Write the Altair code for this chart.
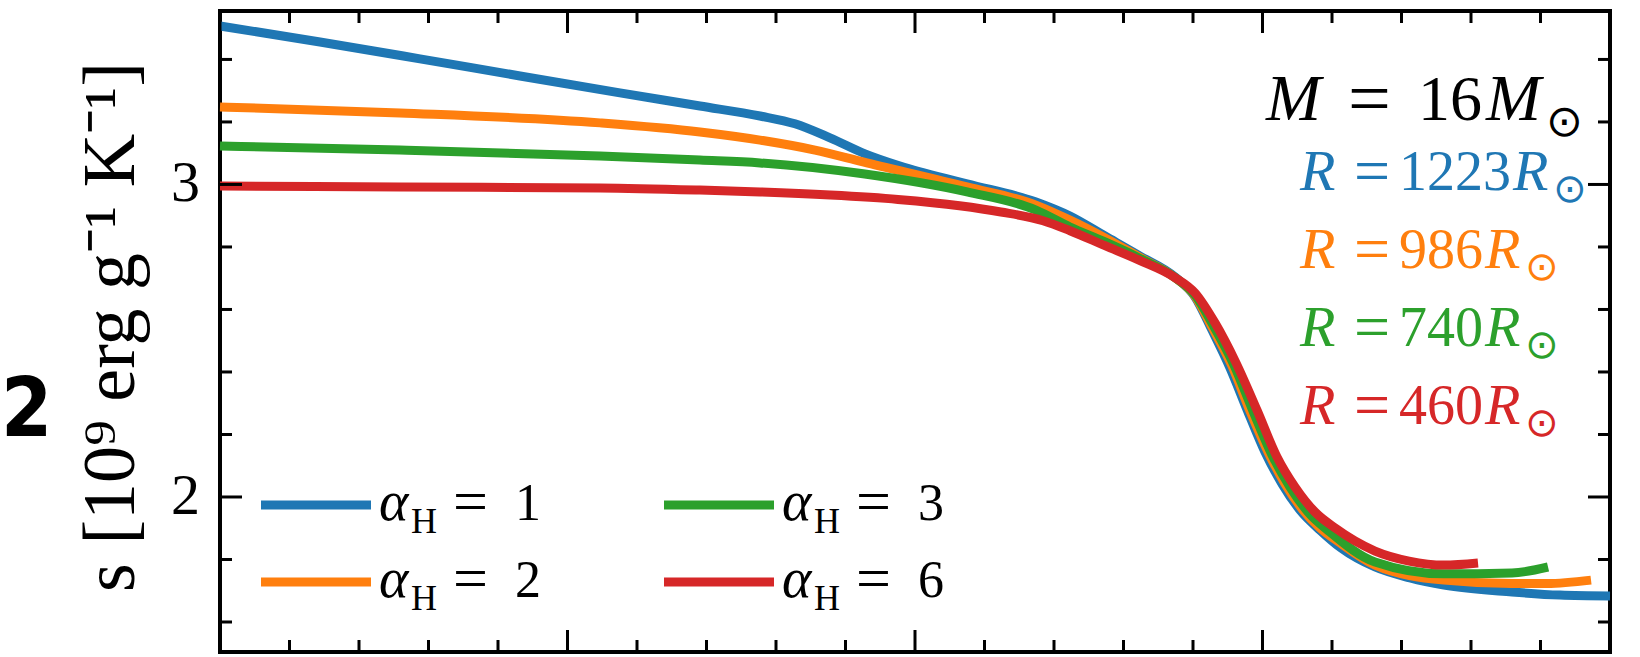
import altair as alt
import pandas as pd

# ---------------- data ----------------
series_names = ["αH = 1", "αH = 2", "αH = 3", "αH = 6"]
series_colors = ["#1f77b4", "#ff7f0e", "#2ca02c", "#d62728"]

blue_x = [0.0, 1.439, 2.878, 4.317, 5.755, 6.906, 7.770, 8.273, 8.777, 9.281, 9.784,
          10.748, 11.741, 12.230, 12.734, 13.237, 13.741, 14.029, 14.273, 14.532, 14.791,
          15.036, 15.281, 15.540, 15.827, 16.129, 16.619, 17.122, 17.612, 18.590, 19.281, 20.0]
blue_y = [3.507, 3.456, 3.402, 3.347, 3.293, 3.251, 3.219, 3.194, 3.149, 3.098, 3.059,
          3.002, 2.944, 2.899, 2.835, 2.771, 2.704, 2.640, 2.534, 2.413, 2.272,
          2.144, 2.042, 1.958, 1.894, 1.837, 1.776, 1.741, 1.718, 1.696, 1.686, 1.683]

orange_x = [0.0, 2.590, 5.468, 6.906, 7.770, 8.561, 9.252, 10.748, 11.741, 12.230, 12.734,
            13.223, 13.727, 14.029, 14.273, 14.561, 14.820, 15.079, 15.324, 15.583, 15.827,
            16.115, 16.619, 17.612, 18.590, 19.094, 19.727]
orange_y = [3.248, 3.229, 3.197, 3.168, 3.142, 3.110, 3.072, 2.992, 2.934, 2.886, 2.829,
            2.768, 2.704, 2.643, 2.544, 2.419, 2.275, 2.144, 2.042, 1.958, 1.901,
            1.853, 1.782, 1.734, 1.723, 1.723, 1.734]

green_x = [0.0, 2.590, 5.468, 6.906, 7.770, 9.252, 10.748, 11.741, 12.230, 12.734, 13.223,
           13.727, 14.029, 14.288, 14.590, 14.863, 15.137, 15.396, 15.655, 15.971, 16.619,
           17.612, 18.590, 19.108]
green_y = [3.123, 3.110, 3.091, 3.078, 3.069, 3.034, 2.976, 2.918, 2.864, 2.816, 2.765,
           2.704, 2.646, 2.550, 2.422, 2.275, 2.134, 2.032, 1.952, 1.888, 1.792,
           1.754, 1.757, 1.776]

red_x = [0.0, 2.590, 5.468, 6.906, 7.770, 8.777, 9.755, 10.640, 11.237, 11.842, 12.230,
         12.734, 13.223, 13.727, 14.029, 14.317, 14.619, 14.921, 15.209, 15.468, 15.755,
         16.043, 16.619, 17.108, 17.612, 18.101]
red_y = [2.995, 2.992, 2.989, 2.982, 2.976, 2.966, 2.952, 2.932, 2.912, 2.884, 2.852,
         2.804, 2.758, 2.704, 2.653, 2.557, 2.429, 2.278, 2.128, 2.032, 1.952,
         1.901, 1.827, 1.795, 1.782, 1.789]

y_major = [2, 3]
y_minor = [1.6, 1.8, 2.2, 2.4, 2.6, 2.8, 3.2, 3.4]
x_major = [0, 5, 10, 15, 20]
x_minor = [1, 2, 3, 4, 6, 7, 8, 9, 11, 12, 13, 14, 16, 17, 18, 19]

radius_labels = ["1223", "986", "740", "460"]
alpha_values = ["1", "2", "3", "6"]

# ---------------- layout ----------------
W, H = 1390, 641
PAD_L, PAD_T = 220, 11
SERIF = "Liberation Serif"

xscale = alt.Scale(domain=[0, 20], nice=False, zero=False)
yscale = alt.Scale(domain=[1.504, 3.555], nice=False, zero=False)

one = pd.DataFrame({"k": [0]})


def txt(s, px, py, size, color="black", italic=False, align="left",
        font=SERIF, weight="normal", baseline="alphabetic", angle=0):
    kw = dict(text=s, fontSize=size, color=color, font=font,
              fontStyle="italic" if italic else "normal", align=align,
              baseline=baseline, fontWeight=weight)
    if angle:
        kw["angle"] = angle
    return alt.Chart(one).mark_text(**kw).encode(
        x=alt.value(px - PAD_L), y=alt.value(py - PAD_T))


layers = []

# curves
all_x = [blue_x, orange_x, green_x, red_x]
all_y = [blue_y, orange_y, green_y, red_y]
for i, (xs, ys) in enumerate(zip(all_x, all_y)):
    d = pd.DataFrame({"x": xs, "y": ys, "series": series_names[i]})
    layers.append(
        alt.Chart(d).mark_line(strokeWidth=9, interpolate="monotone",
                               color=series_colors[i], strokeCap="butt").encode(
            x=alt.X("x:Q", scale=xscale, axis=None),
            y=alt.Y("y:Q", scale=yscale, axis=None),
        )
    )

# inward ticks on all four sides
def yticks(vals, x0, x1):
    return alt.Chart(pd.DataFrame({"v": vals})).mark_rule(color="black", strokeWidth=3).encode(
        y=alt.Y("v:Q", scale=yscale, axis=None), x=alt.value(x0), x2=alt.value(x1))


def xticks(vals, y0, y1):
    return alt.Chart(pd.DataFrame({"v": vals})).mark_rule(color="black", strokeWidth=3).encode(
        x=alt.X("v:Q", scale=xscale, axis=None), y=alt.value(y0), y2=alt.value(y1))


layers += [
    yticks(y_major, 0, 22), yticks(y_minor, 0, 12),
    yticks(y_major, W, W - 22), yticks(y_minor, W, W - 12),
    xticks(x_major, 0, 22), xticks(x_minor, 0, 12),
    xticks(x_major, H, H - 22), xticks(x_minor, H, H - 12),
]

# y tick labels
layers.append(
    alt.Chart(pd.DataFrame({"v": y_major, "lab": [str(v) for v in y_major]})).mark_text(
        fontSize=58, font=SERIF, color="black", align="right", baseline="middle").encode(
        y=alt.Y("v:Q", scale=yscale, axis=None), x=alt.value(-20), text="lab:N")
)

# y-axis title and panel label
layers.append(txt("s   [10⁹   erg   g⁻¹  K⁻¹]", 112, 327, 74, align="center",
                  baseline="middle", angle=270))
layers.append(txt("2", 1, 436, 82, font="DejaVu Sans Condensed, Liberation Sans",
                  weight="bold", align="left"))

# annotation: M = 16 M_sun
layers += [
    txt("M", 1266, 120, 66, italic=True),
    txt("=", 1348, 124, 76),
    txt("16", 1418, 120, 64),
    txt("M", 1486, 120, 66, italic=True),
    txt("⊙", 1546, 136, 44, font="DejaVu Sans"),
]

# annotation: radii
for k, (lab, col) in enumerate(zip(radius_labels, series_colors)):
    base = 190 + 78 * k
    num_end = 1399 + 28 * len(lab)
    layers += [
        txt("R", 1300, base, 58, color=col, italic=True),
        txt("=", 1354, base + 2, 64, color=col),
        txt(lab, 1399, base, 56, color=col),
        txt("R", num_end + 2, base, 58, color=col, italic=True),
        txt("⊙", num_end + 42, base + 12, 40, color=col, font="DejaVu Sans"),
    ]

# manual legend (2 columns)
for i, (val, col) in enumerate(zip(alpha_values, series_colors)):
    x0 = 261 if i < 2 else 664
    yl = 505 if i % 2 == 0 else 582
    layers.append(
        alt.Chart(one).mark_rule(color=col, strokeWidth=9).encode(
            x=alt.value(x0 - PAD_L), x2=alt.value(x0 + 110 - PAD_L),
            y=alt.value(yl - PAD_T))
    )
    layers += [
        txt("α", x0 + 118, yl + 15, 56, italic=True),
        txt("H", x0 + 150, yl + 28, 36),
        txt("=", x0 + 192, yl + 17, 62),
        txt(val, x0 + 254, yl + 15, 52),
    ]

chart = alt.layer(*layers).properties(
    width=W, height=H,
    autosize=alt.AutoSizeParams(type="none"),
    padding={"left": PAD_L, "top": PAD_T, "right": 1640 - PAD_L - W, "bottom": 657 - PAD_T - H},
    background="white",
).configure_view(stroke="black", strokeWidth=4)

chart.save("out.html", embed_options={"renderer": "svg", "actions": False})
